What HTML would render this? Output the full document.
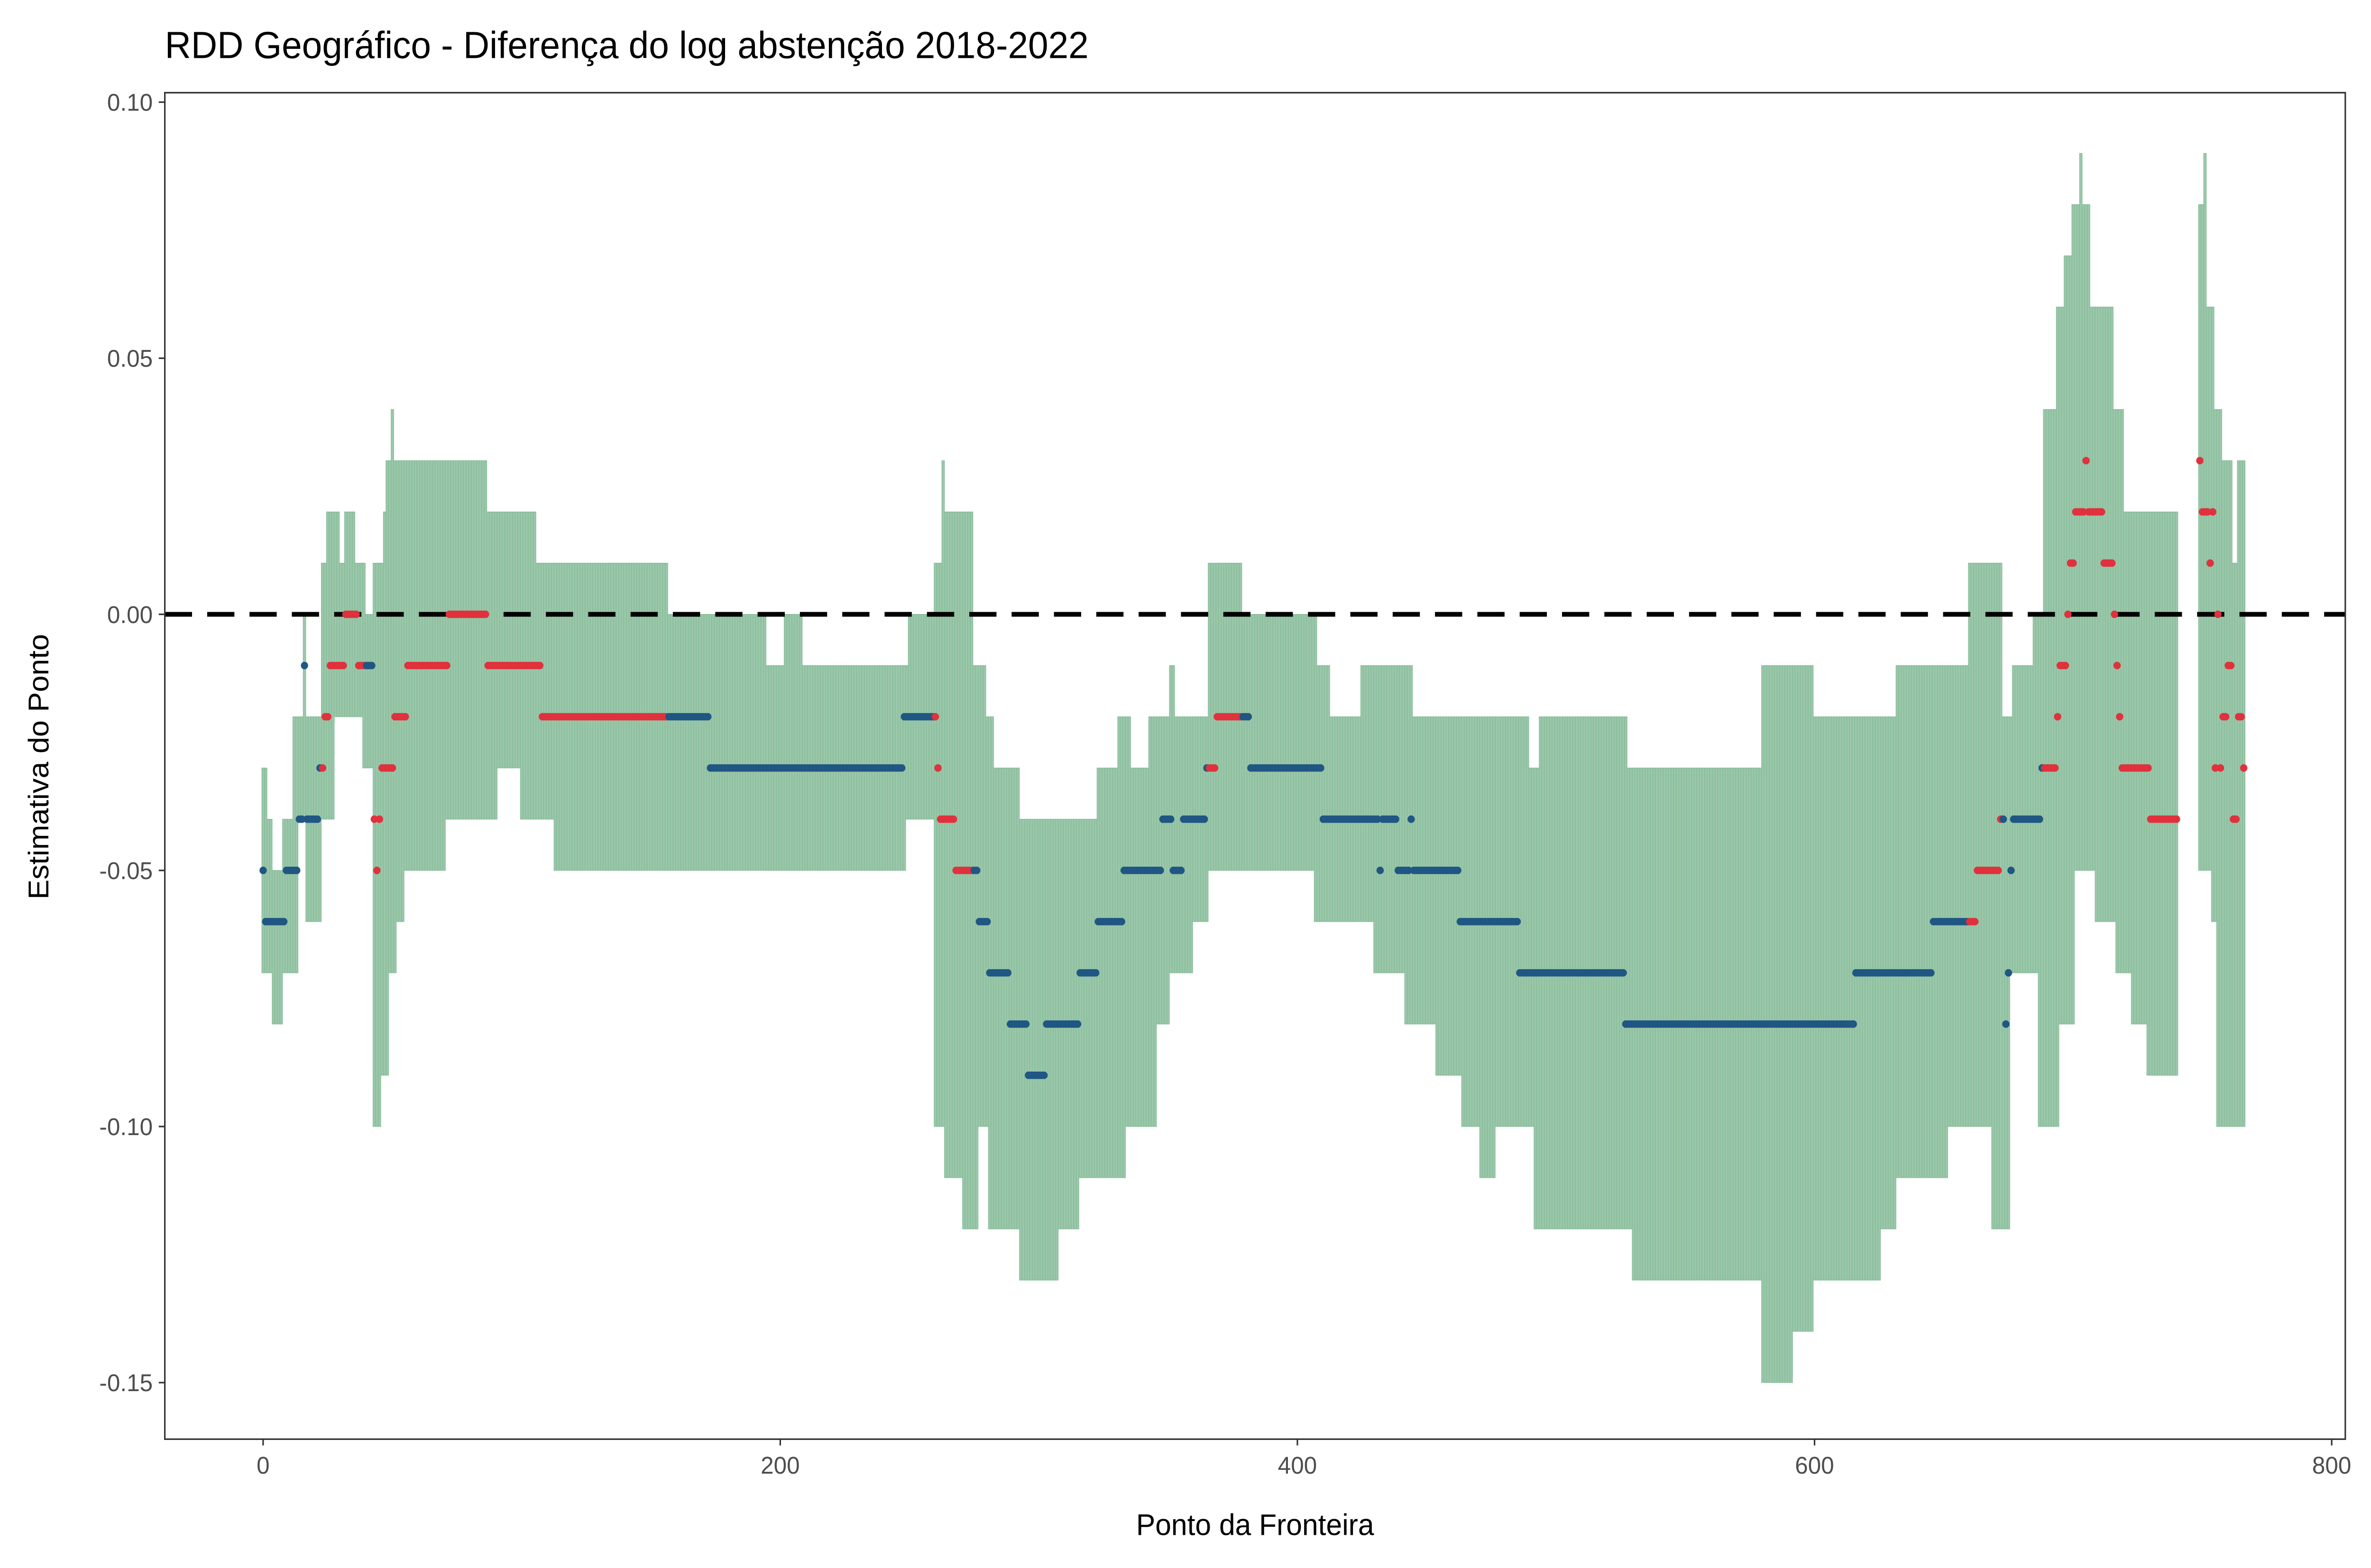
<!DOCTYPE html>
<html><head><meta charset="utf-8">
<style>
html,body{margin:0;padding:0;background:#fff;overflow:hidden;width:100%;height:100%;}
svg{display:block;position:absolute;left:0;top:0;width:100vw;height:100vh;}
text{font-family:"Liberation Sans",Arial,sans-serif;}
</style></head>
<body>
<svg id="chart" xmlns="http://www.w3.org/2000/svg" viewBox="0 0 1568 998" preserveAspectRatio="none">
  <rect x="0" y="0" width="1568" height="998" fill="#fff"/>
  <text x="109" y="37" font-size="24" fill="#000">RDD Geográfico - Diferença do log abstenção 2018-2022</text>
  <g id="bands"></g>
  <line x1="109" x2="1551" y1="391" y2="391" stroke="#000" stroke-width="3" stroke-dasharray="18,10"/>
  <g id="points"></g>
  <rect x="109" y="59" width="1442" height="857" fill="none" stroke="#333" stroke-width="1"/>
  <g id="xaxis"></g>
  <g id="yaxis"></g>
  <text x="830" y="977" font-size="19" text-anchor="middle" fill="#000">Ponto da Fronteira</text>
  <text x="32" y="488" font-size="19" text-anchor="middle" fill="#000" transform="rotate(-90 32 488)">Estimativa do Ponto</text>
</svg>
<script>
const estStarts=[0,1,9,14,16,17,22,24,26,32,37,43,44,45,46,51,56,72,87,108,173,248,261,262,268,277,281,289,296,303,316,323,333,348,352,356,365,369,382,410,432,433,439,444,445,463,486,527,616,646,663,672,674,675,676,677,688,694,695,698,699,701,705,706,712,716,717,718,719,730,741,749,750,753,754,755,756,757,758,760,762,764,766];
const estValues=[-0.05,-0.06,-0.05,-0.04,-0.01,-0.04,-0.03,-0.02,-0.01,0.00,-0.01,-0.04,-0.05,-0.04,-0.03,-0.02,-0.01,0.00,-0.01,-0.02,-0.03,-0.02,-0.03,-0.04,-0.05,-0.06,-0.07,-0.08,-0.09,-0.08,-0.07,-0.06,-0.05,-0.04,-0.05,-0.04,-0.03,-0.02,-0.03,-0.04,-0.05,-0.04,-0.05,-0.04,-0.05,-0.06,-0.07,-0.08,-0.07,-0.06,-0.05,-0.04,-0.08,-0.07,-0.05,-0.04,-0.03,-0.02,-0.01,0.00,0.01,0.02,0.03,0.02,0.01,0.00,-0.01,-0.02,-0.03,-0.04,null,0.03,0.02,0.01,0.02,-0.03,0.00,-0.03,-0.02,-0.01,-0.04,-0.02,-0.03];
const hiStarts=[0,2,4,8,12,16,17,23,25,30,32,36,40,43,47,48,50,51,87,106,157,195,202,209,250,260,263,264,275,280,283,293,323,331,336,343,351,353,366,379,408,413,425,445,490,494,528,580,600,632,660,673,677,685,689,694,697,700,703,704,707,716,720,741,749,751,752,755,758,762,764];
const hiValues=[-0.03,-0.04,-0.05,-0.04,-0.02,0.00,-0.02,0.01,0.02,0.01,0.02,0.01,0.00,0.01,0.02,0.03,0.04,0.03,0.02,0.01,0.00,-0.01,0.00,-0.01,0.00,0.01,0.03,0.02,-0.01,-0.02,-0.03,-0.04,-0.03,-0.02,-0.03,-0.02,-0.01,-0.02,0.01,0.00,-0.01,-0.02,-0.01,-0.02,-0.03,-0.02,-0.03,-0.01,-0.02,-0.01,0.01,-0.02,-0.01,0.00,0.04,0.06,0.07,0.08,0.09,0.08,0.06,0.04,0.02,null,0.08,0.09,0.06,0.04,0.03,0.01,0.03];
const loStarts=[0,4,8,14,17,23,28,39,43,46,49,52,55,71,91,100,113,249,260,264,271,277,281,293,308,316,334,346,351,360,366,407,430,442,454,464,471,477,492,530,580,592,600,626,632,652,669,676,687,695,701,709,717,723,729,741,749,754,756];
const loValues=[-0.07,-0.08,-0.07,-0.04,-0.06,-0.04,-0.02,-0.03,-0.10,-0.09,-0.07,-0.06,-0.05,-0.04,-0.03,-0.04,-0.05,-0.04,-0.10,-0.11,-0.12,-0.10,-0.12,-0.13,-0.12,-0.11,-0.10,-0.08,-0.07,-0.06,-0.05,-0.06,-0.07,-0.08,-0.09,-0.10,-0.11,-0.10,-0.12,-0.13,-0.15,-0.14,-0.13,-0.12,-0.11,-0.10,-0.12,-0.07,-0.10,-0.08,-0.05,-0.06,-0.07,-0.08,-0.09,null,-0.05,-0.06,-0.10];
const nPoints=767;
const xTickValues=[0,200,400,600,800];
const xTickLabels=["0","200","400","600","800"];
const yTickValues=[0.10,0.05,0.00,-0.05,-0.10,-0.15];
const yTickLabels=["0.10","0.05","0.00","-0.05","-0.10","-0.15"];

const NS="http://www.w3.org/2000/svg";
function xs(u){return 174+u*1.71;}
function ys(v){return 391-v*3260;}
function expand(starts,vals,n){
  const out=new Array(n);let k=0;
  for(let i=0;i<n;i++){while(k+1<starts.length&&starts[k+1]<=i)k++;out[i]=vals[k];}
  return out;
}
const est=expand(estStarts,estValues,nPoints);
const hi=expand(hiStarts,hiValues,nPoints);
const lo=expand(loStarts,loValues,nPoints);

const bands=document.getElementById('bands');
for(let i=0;i<nPoints;i++){
  if(hi[i]===null||lo[i]===null)continue;
  const r=document.createElementNS(NS,'rect');
  r.setAttribute('x',xs(i-0.5));
  r.setAttribute('width',1.71);
  r.setAttribute('y',ys(hi[i]));
  r.setAttribute('height',Math.max(0.5,ys(lo[i])-ys(hi[i])));
  r.setAttribute('fill','#9bc7aa');
  r.setAttribute('stroke','#80b994');
  r.setAttribute('stroke-width','0.35');
  
  
  bands.appendChild(r);
}
const pts=document.getElementById('points');
for(let i=0;i<nPoints;i++){
  if(est[i]===null||hi[i]===null)continue;
  const c=document.createElementNS(NS,'circle');
  const sigNot=hi[i]>0&&lo[i]<=0;
  c.setAttribute('cx',xs(i));
  c.setAttribute('cy',ys(est[i]));
  c.setAttribute('r',2.4);
  c.setAttribute('fill',sigNot?'#e0313d':'#1f5683');
  
  
  pts.appendChild(c);
}
const xa=document.getElementById('xaxis');
xTickValues.forEach((v,i)=>{
  const l=document.createElementNS(NS,'line');
  l.setAttribute('x1',xs(v));l.setAttribute('x2',xs(v));
  l.setAttribute('y1',916);l.setAttribute('y2',920);
  l.setAttribute('stroke','#333');l.setAttribute('stroke-width','1');
  
  
  xa.appendChild(l);
  const t=document.createElementNS(NS,'text');
  t.setAttribute('x',xs(v));t.setAttribute('y',938);
  t.setAttribute('font-size','15.5');t.setAttribute('text-anchor','middle');t.setAttribute('fill','#4d4d4d');
  t.textContent=xTickLabels[i];
  
  
  xa.appendChild(t);
});
const ya=document.getElementById('yaxis');
yTickValues.forEach((v,i)=>{
  const l=document.createElementNS(NS,'line');
  l.setAttribute('x1',105);l.setAttribute('x2',109);
  l.setAttribute('y1',ys(v));l.setAttribute('y2',ys(v));
  l.setAttribute('stroke','#333');l.setAttribute('stroke-width','1');
  
  
  ya.appendChild(l);
  const t=document.createElementNS(NS,'text');
  t.setAttribute('x',101);t.setAttribute('y',ys(v)+5.5);
  t.setAttribute('font-size','15.5');t.setAttribute('text-anchor','end');t.setAttribute('fill','#4d4d4d');
  t.textContent=yTickLabels[i];
  
  
  ya.appendChild(t);
});
</script>
</body></html>
